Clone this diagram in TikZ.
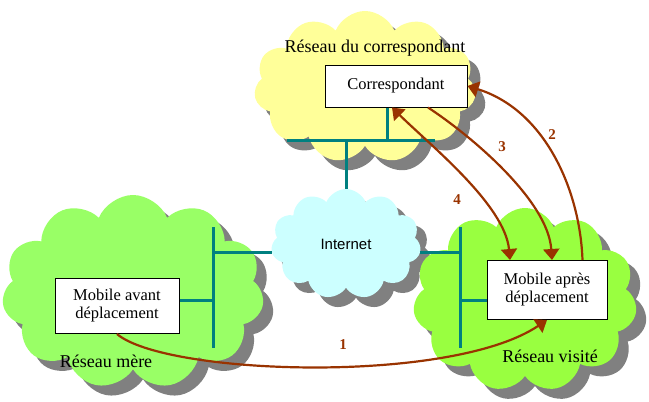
\documentclass[tikz,border=0pt]{standalone}
\usepackage{fontspec}
\setmainfont{Liberation Serif}
\newfontfamily\sansf{Liberation Sans}
\usetikzlibrary{shapes.symbols,shadows,arrows.meta,calc}

\definecolor{cloudyellow}{HTML}{FFFF99}
\definecolor{cloudgreen}{HTML}{99FF66}
\definecolor{cloudlime}{HTML}{99FF40}
\definecolor{cloudcyan}{HTML}{CCFFFF}
\definecolor{shadowgray}{HTML}{808080}
\definecolor{bus}{HTML}{008080}
\definecolor{flow}{HTML}{993300}

\tikzset{
  netcloud/.style={cloud, cloud puffs=11, cloud puff arc=135, cloud ignores aspect,
    draw=none, fill=#1, inner sep=0pt,
    drop shadow={shadow xshift=10pt, shadow yshift=-10pt, fill=shadowgray, opacity=1}},
  hostbox/.style={draw=black, line width=1pt, fill=white, align=center,
    inner sep=2pt, font=\fontsize{16.5}{18}\selectfont},
  netlabel/.style={font=\fontsize{18}{20}\selectfont},
  busline/.style={draw=bus, line width=3pt},
  flowarrow/.style={draw=flow, line width=2.2pt,
    -{Triangle[length=11pt,width=16pt]}},
  flownum/.style={text=flow, font=\bfseries\fontsize{15}{17}\selectfont}
}

\begin{document}
\begin{tikzpicture}[x=1pt,y=-1pt]
\useasboundingbox (0,0) rectangle (649,402);

% networks
\node[netcloud=cloudyellow, minimum width=222pt, minimum height=152pt] (corrnet) at (365,87) {};
\node[netcloud=cloudcyan, minimum width=150pt, minimum height=110pt] (internet) at (346,244) {};
\node[netcloud=cloudgreen, minimum width=262pt, minimum height=194pt] (homenet) at (133,292) {};
\node[netcloud=cloudlime, minimum width=224pt, minimum height=184pt] (visitnet) at (525,300) {};

\node[font=\sansf\fontsize{15}{17}\selectfont] at (internet.center) {Internet};
\node[netlabel] (corrlabel) at (375,48) {Réseau du correspondant};
\node[netlabel] (homelabel) at (106,361) {Réseau mère};
\node[netlabel] (visitlabel) at (550,356) {Réseau visité};

% hosts
\node[hostbox, minimum width=142pt, minimum height=42pt] (corr) at (396,86) {Correspondant};
\node[hostbox, minimum width=124pt, minimum height=55pt] (mavant) at (117,306) {Mobile avant\\déplacement};
\node[hostbox, minimum width=120pt, minimum height=59pt] (mapres) at (547,290) {Mobile après\\déplacement};

% buses
\coordinate (tbusA) at (287,140);
\coordinate (tbusB) at (435,140);
\coordinate (lbusA) at (213,227);
\coordinate (lbusB) at (213,348);
\coordinate (lnet) at (213,252);
\coordinate (lhost) at (213,300);
\coordinate (rbusA) at (460,227);
\coordinate (rbusB) at (460,348);
\coordinate (rnet) at (460,252);
\coordinate (rhost) at (460,300);
\coordinate (ctap) at ($(corr.south)+(-9,0)$);

\draw[busline] (tbusA) -- (tbusB);
\draw[busline] (ctap) -- (ctap |- tbusA);
\draw[busline] (internet.north) -- (internet.north |- tbusA);
\draw[busline] (lbusA) -- (lbusB);
\draw[busline] (lnet) -- (lnet -| internet.west);
\draw[busline] (mavant.east |- lhost) -- (lhost);
\draw[busline] (rbusA) -- (rbusB);
\draw[busline] (internet.east |- rnet) -- (rnet);
\draw[busline] (rhost) -- (mapres.west |- rhost);

% message flows
\draw[flowarrow] (mavant.south) .. controls (165,375) and (450,385) .. (mapres.south);
\draw[flowarrow] ($(mapres.north east)+(-25,0)$) .. controls (580,190) and (545,110) .. (corr.east);
\draw[flowarrow] ($(corr.south)+(32,0)$) .. controls (470,135) and (548,200) .. ($(mapres.north)+(5,0)$);
\draw[flowarrow, {Triangle[length=11pt,width=16pt]}-{Triangle[length=11pt,width=16pt]}]
  ($(corr.south)+(-4,0)$) .. controls (430,145) and (505,205) .. ($(mapres.north)+(-37,0)$);

\node[flownum] (n1) at (343,345) {1};
\node[flownum] (n2) at (552,135) {2};
\node[flownum] (n3) at (502,147) {3};
\node[flownum] (n4) at (457,200) {4};
\end{tikzpicture}
\end{document}
